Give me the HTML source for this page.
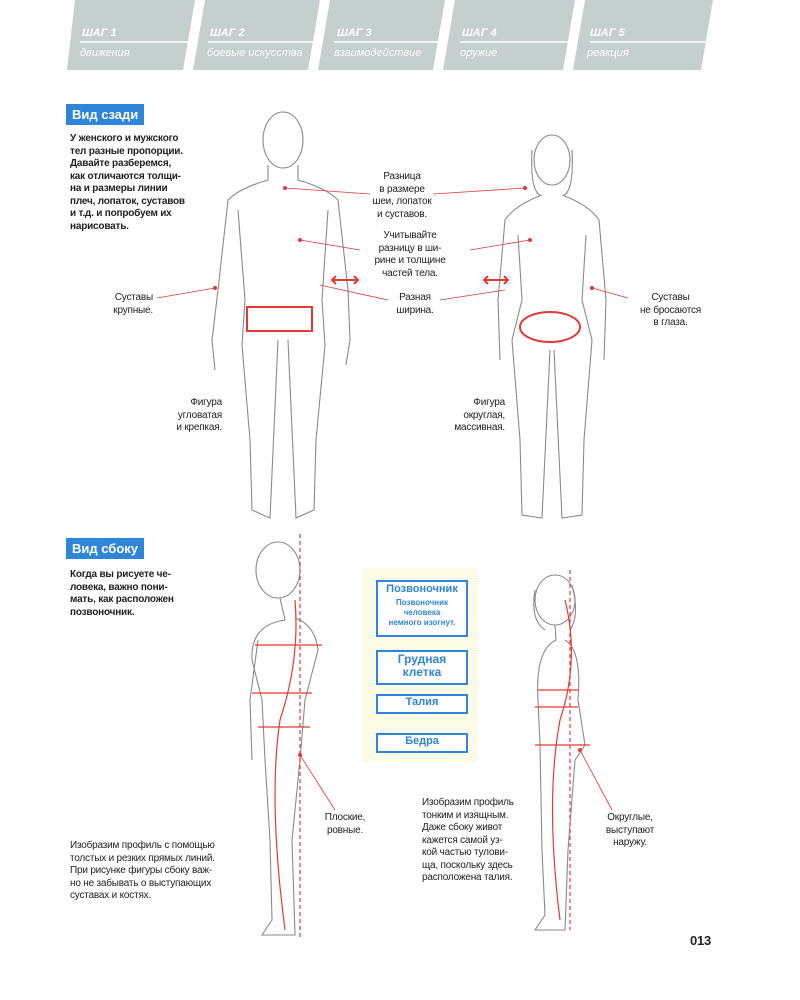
<!DOCTYPE html>
<html><head><meta charset="utf-8"><style>
body{margin:0;background:#fff;}
#p{position:relative;width:800px;height:1000px;overflow:hidden;font-family:"Liberation Sans",sans-serif;color:#222;}
.t{position:absolute;font-size:10px;line-height:12.5px;white-space:nowrap;letter-spacing:-0.2px;}
.b{font-weight:bold;}
.c{text-align:center}.r{text-align:right}
.tag{position:absolute;background:#2f86d8;color:#fff;font-weight:bold;font-size:13px;padding:3px 6px;}
.hd{position:absolute;color:#fff;font-size:11px;font-style:italic;}
.box{position:absolute;border:2px solid #2f86d8;background:#fff;color:#2f86d8;font-weight:bold;text-align:center;font-size:11px;line-height:13px;}
</style></head><body><div id="p">
<svg width="800" height="1000" style="position:absolute;left:0;top:0">
<g fill="#c5cfcd">
<polygon points="75,0 195,0 183,70 67,70"/>
<polygon points="205,0 320,0 308,70 193,70"/>
<polygon points="330,0 445,0 433,70 318,70"/>
<polygon points="455,0 575,0 563,70 443,70"/>
<polygon points="585,0 713,0 701,70 573,70"/>
</g>
<g stroke="#fff" stroke-width="1.5">
<line x1="80" y1="42" x2="192" y2="42"/><line x1="208" y1="42" x2="318" y2="42"/>
<line x1="334" y1="42" x2="443" y2="42"/><line x1="460" y1="42" x2="572" y2="42"/><line x1="590" y1="42" x2="706" y2="42"/>
</g>
<rect x="363" y="568" width="114" height="195" fill="#fbfbe6"/>
<g fill="none" stroke="#8a8a8a" stroke-width="1.1">
<ellipse cx="283" cy="140" rx="20" ry="28"/>
<path d="M268,165 L268,180 Q240,188 228,200 L218,290 L212,340 L215,370 M298,165 L298,180 Q326,188 338,200 L348,290 L350,340 L346,365"/>
<path d="M238,210 L245,300 L242,345 L250,440 L252,510 L270,518 L278,340 M328,210 L322,300 L325,345 L316,440 L314,510 L296,518 L288,340"/>
<ellipse cx="552" cy="160" rx="18" ry="25"/>
<path d="M532,150 Q530,190 540,195 M572,150 Q574,190 564,195"/>
<path d="M542,195 Q515,205 505,220 L498,300 L500,360 M562,195 Q589,205 599,220 L606,300 L604,360"/>
<path d="M518,235 L522,300 L512,340 L520,440 L522,515 L542,518 L550,350 M586,235 L582,300 L592,340 L584,440 L582,515 L562,518 L554,350"/>
<ellipse cx="278" cy="570" rx="22" ry="28"/>
<path d="M280,598 L285,620 Q250,625 252,660 L262,700 L265,760 L270,840 L272,920 L262,935 L295,935 L292,840 L300,760 L305,700 L318,650 Q315,625 295,618"/>
<path d="M258,640 L250,700 L252,760"/>
<ellipse cx="555" cy="600" rx="20" ry="25"/>
<path d="M535,590 Q530,620 545,630 M572,585 Q580,615 570,630"/>
<path d="M555,625 L556,640 Q535,650 538,700 L540,745 L542,850 L545,915 L535,930 L565,930 L568,850 L575,760 L585,745 L578,700 Q582,650 565,640"/>
</g>
<g stroke="#e53935" fill="none" stroke-width="1.2">
<line x1="300" y1="534" x2="300" y2="940" stroke-dasharray="4,3"/>
<path d="M295,600 Q300,660 280,720 Q268,800 285,930"/>
<line x1="255" y1="645" x2="322" y2="645"/><line x1="252" y1="693" x2="312" y2="693"/><line x1="258" y1="727" x2="310" y2="727"/>
<line x1="570" y1="570" x2="570" y2="930" stroke-dasharray="4,3"/>
<path d="M565,600 Q580,660 560,720 Q545,800 560,920"/>
<line x1="538" y1="690" x2="578" y2="690"/><line x1="535" y1="707" x2="578" y2="707"/><line x1="535" y1="745" x2="590" y2="745"/>
<rect x="247" y="307" width="65" height="24" stroke-width="2"/>
<ellipse cx="550" cy="327" rx="30" ry="15" stroke-width="2"/>
<path d="M332,280 L358,280 M336,276 L332,280 L336,284 M354,276 L358,280 L354,284" stroke-width="2"/>
<path d="M484,280 L508,280 M488,276 L484,280 L488,284 M504,276 L508,280 L504,284" stroke-width="2"/>
<g stroke-width="0.8">
<line x1="285" y1="188" x2="370" y2="194"/><line x1="433" y1="194" x2="525" y2="188"/>
<line x1="300" y1="240" x2="360" y2="250"/><line x1="470" y1="250" x2="530" y2="240"/>
<line x1="157" y1="298" x2="215" y2="288"/><line x1="320" y1="285" x2="388" y2="300"/>
<line x1="440" y1="300" x2="505" y2="290"/><line x1="592" y1="288" x2="628" y2="298"/>
<line x1="300" y1="755" x2="335" y2="810"/><line x1="580" y1="750" x2="612" y2="810"/>
</g>
</g>
<g fill="#e53935"><circle cx="285" cy="188" r="2"/><circle cx="525" cy="188" r="2"/><circle cx="300" cy="240" r="2"/><circle cx="530" cy="240" r="2"/><circle cx="215" cy="288" r="2"/><circle cx="592" cy="288" r="2"/><circle cx="300" cy="755" r="2"/><circle cx="580" cy="750" r="2"/></g>
</svg>
<div class="hd b" style="left:82px;top:27px">ШАГ 1</div><div class="hd" style="left:80px;top:47px">движения</div>
<div class="hd b" style="left:210px;top:27px">ШАГ 2</div><div class="hd" style="left:207px;top:47px">боевые искусства</div>
<div class="hd b" style="left:337px;top:27px">ШАГ 3</div><div class="hd" style="left:334px;top:47px">взаимодействие</div>
<div class="hd b" style="left:462px;top:27px">ШАГ 4</div><div class="hd" style="left:460px;top:47px">оружие</div>
<div class="hd b" style="left:590px;top:27px">ШАГ 5</div><div class="hd" style="left:587px;top:47px">реакция</div>
<div class="tag" style="left:66px;top:104px">Вид сзади</div>
<div class="t b" style="left:70px;top:133px">У женского и мужского<br>тел разные пропорции.<br>Давайте разберемся,<br>как отличаются толщи-<br>на и размеры линии<br>плеч, лопаток, суставов<br>и т.д. и попробуем их<br>нарисовать.</div>
<div class="t c" style="left:362px;top:171px;width:80px">Разница<br>в размере<br>шеи, лопаток<br>и суставов.</div>
<div class="t c" style="left:355px;top:230px;width:110px">Учитывайте<br>разницу в ши-<br>рине и толщине<br>частей тела.</div>
<div class="t r" style="left:85px;top:292px;width:68px">Суставы<br>крупные.</div>
<div class="t c" style="left:380px;top:292px;width:70px">Разная<br>ширина.</div>
<div class="t c" style="left:628px;top:292px;width:85px">Суставы<br>не бросаются<br>в глаза.</div>
<div class="t r" style="left:142px;top:397px;width:80px">Фигура<br>угловатая<br>и крепкая.</div>
<div class="t r" style="left:425px;top:397px;width:80px">Фигура<br>округлая,<br>массивная.</div>
<div class="tag" style="left:66px;top:538px">Вид сбоку</div>
<div class="t b" style="left:70px;top:569px">Когда вы рисуете че-<br>ловека, важно пони-<br>мать, как расположен<br>позвоночник.</div>
<div class="box" style="left:376px;top:580px;width:88px;height:52px;padding-top:1px">Позвоночник<div style="font-size:8px;line-height:10px;margin-top:2px">Позвоночник<br>человека<br>немного изогнут.</div></div>
<div class="box" style="left:376px;top:650px;width:88px;height:30px;font-size:12px;padding-top:1px">Грудная клетка</div>
<div class="box" style="left:376px;top:694px;width:88px;height:16px">Талия</div>
<div class="box" style="left:376px;top:733px;width:88px;height:16px">Бедра</div>
<div class="t c" style="left:310px;top:812px;width:70px">Плоские,<br>ровные.</div>
<div class="t c" style="left:595px;top:812px;width:70px">Округлые,<br>выступают<br>наружу.</div>
<div class="t" style="left:422px;top:797px">Изобразим профиль<br>тонким и изящным.<br>Даже сбоку живот<br>кажется самой уз-<br>кой частью тулови-<br>ща, поскольку здесь<br>расположена талия.</div>
<div class="t" style="left:70px;top:840px">Изобразим профиль с помощью<br>толстых и резких прямых линий.<br>При рисунке фигуры сбоку важ-<br>но не забывать о выступающих<br>суставах и костях.</div>
<div class="t b" style="left:690px;top:935px;font-size:13px">013</div>
</div></body></html>
